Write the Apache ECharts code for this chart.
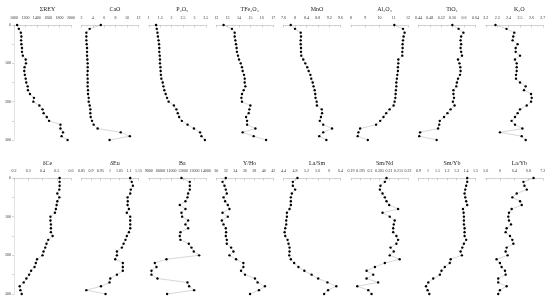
<!DOCTYPE html>
<html>
<head>
<meta charset="utf-8">
<script src="https://cdn.jsdelivr.net/npm/echarts@6/dist/echarts.min.js"></script>
<style>html,body{margin:0;padding:0;background:#fff}#c{width:550px;height:301px}</style>
</head>
<body>
<div id="c"></div>
<script>
const depth = [0,10,20,30,40,50,60,70,80,90,100,110,120,130,140,150,160,170,180,190,200,210,220,230,240,250,260,270,280,290,300];
const depthTicks = [0,100,200,300];

const titles = ['ΣREY','CaO','P₂O₅','TFe₂O₃','MnO','Al₂O₃','TiO₂','K₂O','δCe','δEu','Ba','Y/Ho','La/Sm','Sm/Nd','Sm/Yb','La/Yb'];

const axisMin = [1000,2,1,12,7.6,8,0.44,2.2, 0.2,0.85,9000,30,4.4,0.19,0.9,5.6];
const axisMax = [2000,12,3.5,17,9.6,12,0.64,2.7, 0.6,1.15,14000,42,6.4,0.22,1.5,7.2];
const axisStep = [200,2,0.5,1,0.4,1,0.04,0.1, 0.1,0.05,1000,2,0.4,0.005,0.1,0.4];

const sREY = [1055,1085,1120,1130,1125,1130,1140,1140,1155,1205,1210,1185,1180,1190,1205,1215,1240,1245,1280,1350,1340,1445,1500,1520,1575,1615,1815,1815,1860,1835,1940];
const CaO = [5.4,3.45,2.87,2.87,2.87,2.93,2.99,2.99,2.99,3.05,3.1,3.1,3.1,3.05,3.1,3.1,3.1,3.16,3.16,3.28,3.28,3.45,3.57,3.57,3.63,3.86,4.15,4.85,8.9,10.5,6.95];
const P2O5 = [1.32,1.35,1.38,1.4,1.43,1.45,1.46,1.46,1.48,1.49,1.49,1.51,1.52,1.53,1.55,1.61,1.64,1.68,1.74,1.8,1.87,2.1,2.21,2.27,2.33,2.45,2.7,2.98,3.25,3.31,3.46];
const TFe2O3 = [12.65,13.38,13.62,13.62,13.68,13.74,13.79,13.82,13.91,14.0,14.15,14.26,14.32,14.44,14.5,14.5,14.56,14.41,14.26,14.21,14.26,15.0,14.91,14.85,14.62,14.71,14.71,15.44,14.32,15.29,16.38];
const MnO = [7.85,8.0,8.2,8.21,8.2,8.2,8.21,8.21,8.22,8.29,8.36,8.43,8.48,8.54,8.57,8.62,8.65,8.69,8.71,8.72,8.76,8.77,8.94,8.95,8.91,8.87,8.99,9.3,8.99,8.85,9.1];
const Al2O3 = [11.04,11.65,11.76,11.69,11.65,11.62,11.62,11.6,11.6,11.32,11.32,11.29,11.29,11.25,11.22,11.18,11.18,11.15,11.13,11.11,11.06,10.99,10.71,10.47,10.28,10.05,9.76,8.64,8.52,8.47,9.18];
const TiO2 = [0.559,0.581,0.598,0.59,0.588,0.59,0.588,0.59,0.593,0.579,0.584,0.587,0.588,0.586,0.579,0.575,0.573,0.563,0.563,0.565,0.561,0.567,0.553,0.542,0.53,0.515,0.513,0.509,0.446,0.443,0.504];
const K2O = [2.285,2.382,2.45,2.441,2.435,2.479,2.462,2.462,2.5,2.456,2.471,2.471,2.471,2.465,2.465,2.5,2.55,2.535,2.597,2.603,2.597,2.559,2.5,2.479,2.456,2.426,2.456,2.521,2.324,2.515,2.55];
const dCe = [0.52,0.52,0.52,0.518,0.504,0.518,0.504,0.499,0.494,0.487,0.456,0.456,0.459,0.459,0.459,0.471,0.44,0.428,0.419,0.407,0.4,0.362,0.353,0.344,0.32,0.306,0.287,0.268,0.24,0.245,0.254];
const dEu = [1.107,1.115,1.121,1.11,1.107,1.093,1.094,1.093,1.1,1.089,1.107,1.107,1.107,1.107,1.1,1.089,1.082,1.072,1.063,1.037,1.037,1.028,1.068,1.068,1.068,1.037,1.002,0.998,0.953,0.876,0.977];
const Ba = [11865,12596,12596,12596,12450,12392,12216,11719,12216,11865,11924,12450,12216,12450,11778,11719,11778,12509,12743,12947,13415,10550,9526,9673,9234,9234,9760,12392,12538,12977,10608];
const YHo = [32.02,31.33,31.74,32.02,32.23,31.54,31.88,32.44,32.79,31.33,32.44,31.19,31.54,32.02,32.09,32.02,32.23,32.23,33.14,33.63,32.79,34.19,35.72,35.72,35.23,36.07,38.16,38.72,40.26,39.0,37.12];
const LaSm = [4.886,4.724,4.724,4.805,4.689,4.654,4.654,4.654,4.608,4.516,4.516,4.492,4.492,4.458,4.435,4.458,4.539,4.573,4.608,4.608,4.597,4.654,4.77,4.92,5.128,5.383,5.614,5.938,6.25,5.96,5.822];
const SmNd = [0.2087,0.2078,0.2055,0.2052,0.2066,0.2078,0.2087,0.2101,0.2148,0.2066,0.2104,0.213,0.2125,0.2122,0.2122,0.2139,0.2148,0.2139,0.2108,0.2125,0.2104,0.2156,0.2078,0.2026,0.1982,0.2017,0.1982,0.2043,0.1933,0.1991,0.2008];
const SmYb = [1.414,1.414,1.403,1.393,1.386,1.393,1.403,1.414,1.369,1.376,1.379,1.379,1.379,1.386,1.386,1.386,1.403,1.379,1.362,1.344,1.358,1.24,1.23,1.178,1.143,1.126,1.056,1.004,0.98,0.997,1.015];
const LaYb = [6.94,6.657,6.685,6.751,6.468,6.345,6.562,6.609,6.326,6.251,6.232,6.251,6.308,6.185,6.157,6.279,6.345,6.374,6.185,6.157,6.213,5.902,5.996,6.043,6.138,6.157,5.949,5.949,6.185,5.996,5.949];

const seriesData = [sREY,CaO,P2O5,TFe2O3,MnO,Al2O3,TiO2,K2O,dCe,dEu,Ba,YHo,LaSm,SmNd,SmYb,LaYb];

const FONT = '"Liberation Serif","DejaVu Serif",serif';
const grids=[], xAxes=[], yAxes=[], series=[], titleArr=[];
for (let i=0;i<16;i++){
  const row = Math.floor(i/8), col = i%8;
  const left = 14 + col*67.4, width = 57;
  const top = row===0 ? 25 : 178, height = row===0 ? 115 : 116;
  grids.push({left:left, top:top, width:width, height:height, containLabel:false});
  titleArr.push({text:titles[i], left:left+width/2, top: row===0?1:155, textAlign:'center',
    textStyle:{fontFamily:FONT,fontSize:6,fontWeight:'normal',color:'#222'}});
  xAxes.push({type:'value', gridIndex:i, position:'top', min:axisMin[i], max:axisMax[i], interval:axisStep[i],
    axisLine:{show:true,lineStyle:{color:'#b5b5b5',width:0.6}},
    axisTick:{show:true,inside:true,length:2.5,lineStyle:{color:'#b5b5b5',width:0.6}},
    minorTick:{show:true,splitNumber:2,length:1.5,lineStyle:{color:'#c8c8c8',width:0.5}},
    splitLine:{show:false},
    axisLabel:{fontFamily:FONT,fontSize:4,color:'#333',margin:5, hideOverlap:false,
      formatter:v=>String(parseFloat(Number(v).toFixed(6)))}});
  const first = col===0;
  yAxes.push({type:'value', gridIndex:i, inverse:true, min:0, max:300, interval:50,
    axisLine:{show:first,lineStyle:{color:'#d0d0d0',width:0.6}},
    axisTick:{show:first,length:2,lineStyle:{color:'#b5b5b5',width:0.6}},
    splitLine:{show:false},
    axisLabel:{show:first,fontFamily:FONT,fontSize:4,color:'#333',margin:3,
      formatter:v=>depthTicks.indexOf(v)>=0?String(v):''}});
  series.push({type:'line', xAxisIndex:i, yAxisIndex:i,
    data: seriesData[i].map((v,k)=>[v, depth[k]]),
    symbol:'circle', symbolSize:2.4, showSymbol:true,
    itemStyle:{color:'#000'}, lineStyle:{color:'#b0b0b0',width:0.5},
    silent:true, animation:false});
}
const chart = echarts.init(document.getElementById('c'), null, {renderer:'canvas'});
chart.setOption({backgroundColor:'#fff', animation:false, title:titleArr, grid:grids, xAxis:xAxes, yAxis:yAxes, series:series});
</script>
</body>
</html>
